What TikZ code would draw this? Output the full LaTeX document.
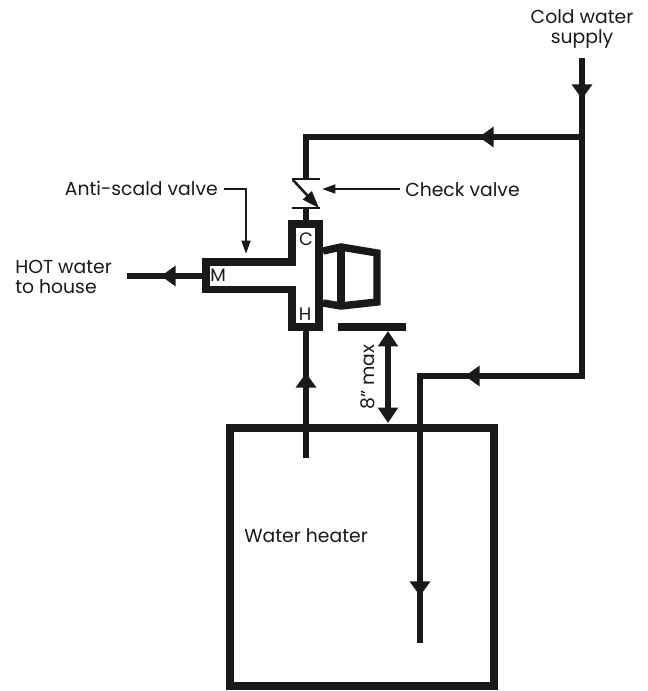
\documentclass[tikz,border=0pt]{standalone}
\usepackage{fontspec}
\setmainfont{Poppins}
\usetikzlibrary{arrows.meta}
\tikzstyle{pipe} = [line width=3.9pt]
\tikzstyle{wall} = [line width=5.6pt,miter limit=10]
\tikzstyle{thin bar} = [line width=1.9pt]
\tikzstyle{flow} = [pipe,-{Triangle[length=11pt,width=15pt]}]
\tikzstyle{leader} = [line width=1.9pt,-{Triangle[length=10pt,width=6.5pt]}]
\tikzstyle{lbl} = [font=\fontsize{14.1}{15}\selectfont,align=center,inner sep=0]
\tikzstyle{port} = [font=\fontsize{13.5}{14}\selectfont,inner sep=0]
\begin{document}
\begin{tikzpicture}[x=.75pt,y=-.75pt,color={black!90!white}]
\useasboundingbox (0,0) rectangle (648,691);
\coordinate (coldin) at (582,58);
\coordinate (coldmid) at (582,137);
\coordinate (coldlow) at (582,376);
\coordinate (dipbend) at (420,376);
\coordinate (dipend) at (420,643);
\coordinate (chktop) at (306,179);
\coordinate (chkbot) at (306,208);
\coordinate (bend) at (306,137);
\coordinate (valvetop) at (306,224);
\coordinate (valvebot) at (306,327);
\coordinate (hotend) at (306,458);
\coordinate (mixport) at (206,276);
\coordinate (houseend) at (127,276);
% water heater
\draw[wall] (230,428) rectangle (494,686);
% cold side
\draw[pipe] (coldin)--(coldlow)--(dipbend)--(dipend);
\draw[pipe] (coldmid)--(bend)--(chktop);
\draw[pipe] (chkbot)--(valvetop);
\draw[flow] (coldin)--(582,99);
\draw[flow] (coldmid)--(479,137);
\draw[flow] (coldlow)--(465,376);
\draw[flow] (dipbend)--(420,596);
% hot side
\draw[pipe] (valvebot)--(hotend);
\draw[flow] (hotend)--(306,373);
\draw[pipe] (mixport)--(houseend);
\draw[flow] (mixport)--(161,276);
% valve body
\draw[wall] (292,224)--(319,224)--(319,327)--(292,327)--(292,289.5)--(206,289.5)--(206,262)--(292,262)--cycle;
\draw[wall,line join=miter] (323,251)--(341,247)--(377,253)--(377,302)--(341,306)--(323,303);
\draw[wall] (341,245)--(341,309);
% check valve
\draw[thin bar] (292,179)--(320,179);
\draw[thin bar] (292,208)--(320,208);
\draw[thin bar,-{Triangle[length=13pt,width=9pt]}] (293,180)--(319,208);
% 8 inch clearance
\draw[wall] (338,327)--(406,327);
\draw[pipe,{Triangle[length=11.5pt,width=14.5pt]}-{Triangle[length=11.5pt,width=14.5pt]}] (388,331)--(388,423);
% labels
\node[lbl] (cold) at (582,29) {Cold water\\supply};
\node[lbl,anchor=west] (check) at (405,190) {Check valve};
\node[lbl,anchor=east] (antiscald) at (218,188) {Anti-scald valve};
\node[lbl,anchor=west,align=left] (house) at (15,277) {HOT water\\to house};
\node[port] (portc) at (306,239) {C};
\node[port] (portm) at (218,275) {M};
\node[port] (porth) at (305,314) {H};
\node[lbl,rotate=90] (clearance) at (368,377) {8" max};
\node[lbl,anchor=west] (heater) at (244,536) {Water heater};
\draw[leader] (400,189)--(322,189);
\draw[leader] (224,189)--(246,189)--(246,254);
\end{tikzpicture}
\end{document}
